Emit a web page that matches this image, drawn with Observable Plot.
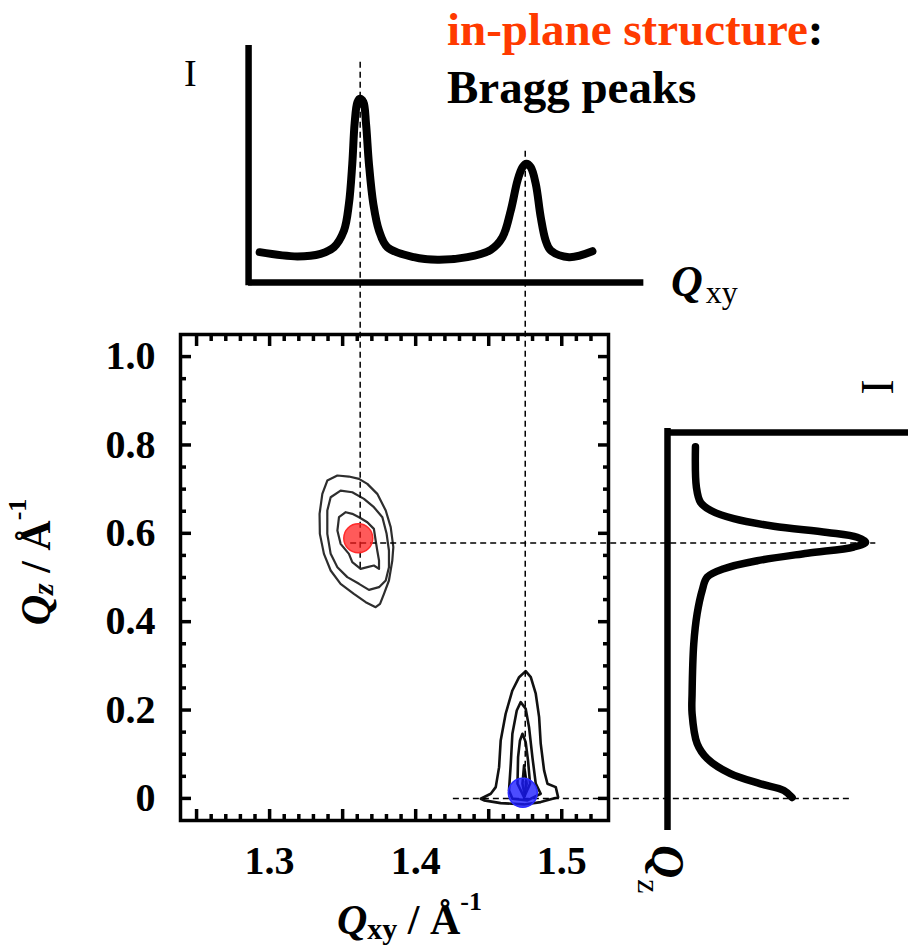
<!DOCTYPE html>
<html>
<head>
<meta charset="utf-8">
<script src="https://cdn.jsdelivr.net/npm/d3@7"></script>
<script src="https://cdn.jsdelivr.net/npm/@observablehq/plot@0.6"></script>
<style>
  html, body { margin: 0; padding: 0; background: #fff; }
  #wrap { position: relative; width: 908px; height: 949px; overflow: hidden; background: #fff; }
  #wrap > svg { position: absolute; left: 0; top: 0; }
</style>
</head>
<body>
<div id="wrap"></div>
<script>
// ---------------- data ----------------
const qxyDomain = [1.239, 1.532];
const qzDomain = [-0.05, 1.05];

const xMajorTicks = [1.25, 1.30, 1.35, 1.40, 1.45, 1.50];
const xMinorTicks = [1.26, 1.27, 1.28, 1.29, 1.31, 1.32, 1.33, 1.34, 1.36, 1.37, 1.38, 1.39,
                     1.41, 1.42, 1.43, 1.44, 1.46, 1.47, 1.48, 1.49, 1.51, 1.52];
const xTickLabels = [1.3, 1.4, 1.5];
const yMajorTicks = [0, 0.2, 0.4, 0.6, 0.8, 1.0];
const yMinorTicks = [0.05, 0.1, 0.15, 0.25, 0.3, 0.35, 0.45, 0.5, 0.55, 0.65, 0.7, 0.75, 0.85, 0.9, 0.95];
const yTickLabels = [0, 0.2, 0.4, 0.6, 0.8, 1.0];

const redOuter = [[1.3464,0.7308],[1.3395,0.7195],[1.3361,0.6893],[1.3342,0.6441],[1.3344,0.5988],[1.3372,0.5535],[1.3418,0.5158],[1.3486,0.4857],[1.3577,0.4631],[1.3658,0.4442],[1.3726,0.4329],[1.3756,0.4404],[1.3783,0.4631],[1.3817,0.4932],[1.3840,0.5385],[1.3847,0.5686],[1.3829,0.6139],[1.3795,0.6516],[1.3737,0.6893],[1.3669,0.7119],[1.3612,0.7233],[1.3543,0.7285]];
const redMiddle = [[1.3486,0.6968],[1.3418,0.6817],[1.3395,0.6516],[1.3395,0.5988],[1.3418,0.5535],[1.3464,0.5234],[1.3532,0.5008],[1.3612,0.4857],[1.3680,0.4721],[1.3749,0.4781],[1.3795,0.4932],[1.3817,0.5234],[1.3817,0.5611],[1.3801,0.5988],[1.3772,0.6365],[1.3714,0.6591],[1.3646,0.6780],[1.3566,0.6930]];
const redInner = [[1.3521,0.6478],[1.3475,0.6365],[1.3464,0.6063],[1.3486,0.5762],[1.3543,0.5535],[1.3566,0.5347],[1.3623,0.5196],[1.3669,0.5234],[1.3714,0.5271],[1.3749,0.5196],[1.3749,0.5385],[1.3737,0.5611],[1.3726,0.5837],[1.3714,0.6101],[1.3669,0.6252],[1.3612,0.6365],[1.3566,0.6441]];
const blueOuter = [[1.4445,-0.0007],[1.4514,0.0106],[1.4548,0.0256],[1.4571,0.0708],[1.4582,0.1312],[1.4616,0.1916],[1.4662,0.2443],[1.4708,0.2744],[1.4753,0.2880],[1.4788,0.2744],[1.4822,0.2369],[1.4845,0.1839],[1.4856,0.1238],[1.4879,0.0633],[1.4902,0.0333],[1.4959,0.0256],[1.4975,0.0029],[1.4856,-0.0084],[1.4742,-0.0136],[1.4582,-0.0106],[1.4468,-0.0045]];
const blueSecond = [[1.4639,0.0181],[1.4651,0.0785],[1.4662,0.1464],[1.4692,0.1991],[1.4719,0.2179],[1.4753,0.2029],[1.4776,0.1613],[1.4799,0.0934],[1.4822,0.0333],[1.4856,0.0106],[1.4765,-0.0045],[1.4662,-0.0007]];
const blueThird = [[1.4697,0.0333],[1.4701,0.0934],[1.4714,0.1312],[1.4731,0.1464],[1.4753,0.1274],[1.4769,0.0860],[1.4783,0.0333],[1.4742,0.0029]];
const blueFourth = [[1.4731,0.0333],[1.4742,0.0747],[1.4760,0.0333],[1.4745,0.0100]];

// peak positions (spots)
const redSpot = [1.3607, 0.589];
const blueSpot = [1.4733, 0.013];

// dashed guide lines
const guideQxy = [1.362, 1.475];
const guideTopQz = [1.666, 1.4645];
const guideBottomQz = [0.512, 0];
const levelQz = [0.578, 0];
const levelFromQxy = [1.3555, 1.4258];
const levelToQxy = [1.715, 1.699];

// top profile: I vs Qxy (Bragg peaks)
const topQxy = [1.2932,1.3190,1.3349,1.3440,1.3509,1.3543,1.3566,1.3582,1.3601,1.3618,1.3642,1.3660,1.3680,1.3710,1.3749,1.3806,1.3988,1.4149,1.4354,1.4514,1.4594,1.4651,1.4697,1.4731,1.4758,1.4788,1.4822,1.4856,1.4890,1.4925,1.5050,1.5210];
const topI   = [12.8,11.0,12.1,14.9,21.9,33.2,50.1,67.0,76.1,77.5,76.1,67.0,50.1,33.2,21.9,14.9,10.7,9.6,10.7,13.8,19.1,30.4,43.0,48.6,50.1,48.6,41.6,27.6,17.7,13.5,10.7,13.2];
const topIDomain = [0, 100];
const topAxisQxy = [1.2856, 1.5562];
const topAxisI = [-1.4, 100];

// right profile: I vs Qz (rotated)
const rightQz = [0.796,0.704,0.670,0.652,0.633,0.616,0.602,0.591,0.580,0.569,0.555,0.538,0.520,0.501,0.471,0.418,0.350,0.237,0.192,0.124,0.090,0.056,0.033,0.018,0.002];
const rightI  = [0.116,0.120,0.137,0.178,0.275,0.441,0.663,0.787,0.822,0.773,0.580,0.372,0.234,0.165,0.144,0.123,0.109,0.102,0.102,0.123,0.165,0.261,0.386,0.483,0.517];
const rightIDomain = [0, 1];
const rightAxisQz = [-0.0724, 0.837];
const rightTopQz = 0.828;

// ---------------- build ----------------
const serif = "'Liberation Serif','Times New Roman',Times,serif";
const wrap = document.getElementById("wrap");

const ringsRed = [["ro", redOuter], ["rm", redMiddle], ["ri", redInner]]
  .flatMap(([id, pts]) => pts.map(([q, qz]) => ({id, q, qz})));
const ringsBlue = [["bo", blueOuter], ["bs", blueSecond], ["bt", blueThird], ["bf", blueFourth]]
  .flatMap(([id, pts]) => pts.map(([q, qz]) => ({id, q, qz})));
const vGuides = guideQxy.map((q, i) => ({q, y1: guideTopQz[i], y2: guideBottomQz[i]}));
const hGuides = levelQz.map((qz, i) => ({qz, x1: levelFromQxy[i], x2: levelToQxy[i]}));

const tickOpts = {strokeWidth: 3.5, fill: "none", label: null};
const labelOpts = {tickSize: 0, tickPadding: 25, fontSize: 40, fontWeight: "bold", fontFamily: serif, label: null};

const main = Plot.plot({
  width: 908, height: 949,
  marginLeft: 180, marginRight: 300, marginTop: 334, marginBottom: 129,
  x: {domain: qxyDomain},
  y: {domain: qzDomain},
  style: {background: "transparent", color: "black"},
  marks: [
    Plot.line(ringsRed, {x: "q", y: "qz", z: "id", curve: "linear-closed", stroke: "#2e2e2e", strokeWidth: 2.2}),
    Plot.line(ringsBlue, {x: "q", y: "qz", z: "id", curve: "linear-closed", stroke: "#111", strokeWidth: 2.6}),
    Plot.ruleX(vGuides, {x: "q", y1: "y1", y2: "y2", stroke: "black", strokeWidth: 1.5, strokeDasharray: "6,4"}),
    Plot.ruleY(hGuides, {y: "qz", x1: "x1", x2: "x2", stroke: "black", strokeWidth: 1.5, strokeDasharray: "6,4"}),
    Plot.dot([redSpot], {x: d => d[0], y: d => d[1], r: 14.5, fill: "#ff1a1a", fillOpacity: 0.72, stroke: "#ff2a2a", strokeWidth: 1.5}),
    Plot.dot([blueSpot], {x: d => d[0], y: d => d[1], r: 14.5, fill: "#1a1aff", fillOpacity: 0.78, stroke: "#2a2aff", strokeWidth: 1.5}),
    Plot.frame({stroke: "black", strokeWidth: 3.5}),
    Plot.axisX(xMajorTicks, {anchor: "bottom", tickSize: -11, ...tickOpts}),
    Plot.axisX(xMinorTicks, {anchor: "bottom", tickSize: -6, ...tickOpts}),
    Plot.axisX(xMajorTicks, {anchor: "top", tickSize: -11, ...tickOpts}),
    Plot.axisX(xMinorTicks, {anchor: "top", tickSize: -6, ...tickOpts}),
    Plot.axisY(yMajorTicks, {anchor: "left", tickSize: -11, ...tickOpts}),
    Plot.axisY(yMinorTicks, {anchor: "left", tickSize: -6, ...tickOpts}),
    Plot.axisY(yMajorTicks, {anchor: "right", tickSize: -11, ...tickOpts}),
    Plot.axisY(yMinorTicks, {anchor: "right", tickSize: -6, ...tickOpts}),
    Plot.axisX(xTickLabels, {anchor: "bottom", ...labelOpts, tickFormat: d => d.toFixed(1)}),
    Plot.axisY(yTickLabels, {anchor: "left", ...labelOpts, tickFormat: d => d === 0 ? "0" : d.toFixed(1)})
  ]
});
wrap.appendChild(main);

const topData = topQxy.map((q, i) => ({q, i: topI[i]}));
const topPanel = Plot.plot({
  width: 908, height: 949,
  marginLeft: 180, marginRight: 300, marginTop: 45, marginBottom: 667,
  x: {domain: qxyDomain, axis: null},
  y: {domain: topIDomain, axis: null},
  style: {background: "transparent"},
  marks: [
    Plot.ruleX([{q: topAxisQxy[0], y1: topAxisI[0], y2: topAxisI[1]}], {x: "q", y1: "y1", y2: "y2", stroke: "black", strokeWidth: 6.5}),
    Plot.ruleY([{i: 0, x1: topAxisQxy[0], x2: topAxisQxy[1]}], {y: "i", x1: "x1", x2: "x2", stroke: "black", strokeWidth: 6.5}),
    Plot.line(topData, {x: "q", y: "i", curve: "catmull-rom", stroke: "black", strokeWidth: 8, strokeLinejoin: "round"})
  ]
});
wrap.appendChild(topPanel);

const rightData = rightQz.map((qz, k) => ({qz, i: rightI[k]}));
const rightPanel = Plot.plot({
  width: 908, height: 949,
  marginLeft: 667, marginRight: 0, marginTop: 334, marginBottom: 129,
  x: {domain: rightIDomain, axis: null},
  y: {domain: qzDomain, axis: null},
  style: {background: "transparent"},
  marks: [
    Plot.ruleX([{i: 0, y1: rightAxisQz[0], y2: rightAxisQz[1]}], {x: "i", y1: "y1", y2: "y2", stroke: "black", strokeWidth: 6.5}),
    Plot.ruleY([{qz: rightTopQz, x1: rightIDomain[0], x2: rightIDomain[1]}], {y: "qz", x1: "x1", x2: "x2", stroke: "black", strokeWidth: 6.5}),
    Plot.line(rightData, {x: "i", y: "qz", curve: "catmull-rom", stroke: "black", strokeWidth: 7.5, strokeLinejoin: "round"})
  ]
});
wrap.appendChild(rightPanel);

// ---------------- text annotations ----------------
const ann = d3.create("svg").attr("width", 908).attr("height", 949)
  .attr("font-family", serif).attr("fill", "black");

const t1 = ann.append("text").attr("x", 447).attr("y", 45).attr("font-size", 47).attr("font-weight", "bold");
t1.append("tspan").attr("fill", "#ff3a00").text("in-plane structure");
t1.append("tspan").attr("fill", "#000").text(":");
ann.append("text").attr("x", 447).attr("y", 103).attr("font-size", 47).attr("font-weight", "bold").text("Bragg peaks");

ann.append("text").attr("x", 184).attr("y", 86).attr("font-size", 38).text("I");

const tq = ann.append("text").attr("x", 671).attr("y", 296);
tq.append("tspan").attr("font-size", 44).attr("font-weight", "bold").attr("font-style", "italic").text("Q");
tq.append("tspan").attr("font-size", 32).attr("dx", 3).attr("dy", 7).text("xy");

// bottom axis title
const bx = ann.append("text").attr("x", 337).attr("y", 934).attr("font-size", 42).attr("font-weight", "bold");
bx.append("tspan").attr("font-style", "italic").text("Q");
bx.append("tspan").attr("font-size", 30).attr("dy", 5).text("xy");
bx.append("tspan").attr("dy", -5).text(" / Å");
bx.append("tspan").attr("font-size", 26).attr("dy", -24).text("-1");

// left axis title (rotated)
const ly = ann.append("text").attr("transform", "translate(50,562) rotate(-90)")
  .attr("text-anchor", "middle").attr("font-size", 42).attr("font-weight", "bold");
ly.append("tspan").attr("font-style", "italic").text("Q");
ly.append("tspan").attr("font-size", 30).attr("font-style", "italic").attr("dy", 3).text("z");
ly.append("tspan").attr("dy", -3).text(" / Å");
ly.append("tspan").attr("font-size", 26).attr("dy", -24).text("-1");

// right panel labels (rotated 90° clockwise)
ann.append("text").attr("transform", "translate(862,387) rotate(90)")
  .attr("text-anchor", "middle").attr("font-size", 46).text("I");
const rq = ann.append("text").attr("transform", "translate(652,845) rotate(90)");
rq.append("tspan").attr("font-size", 46).attr("font-weight", "bold").attr("font-style", "italic").text("Q");
rq.append("tspan").attr("font-size", 32).attr("dx", 1).attr("dy", 14).text("z");

wrap.appendChild(ann.node());
</script>
</body>
</html>
